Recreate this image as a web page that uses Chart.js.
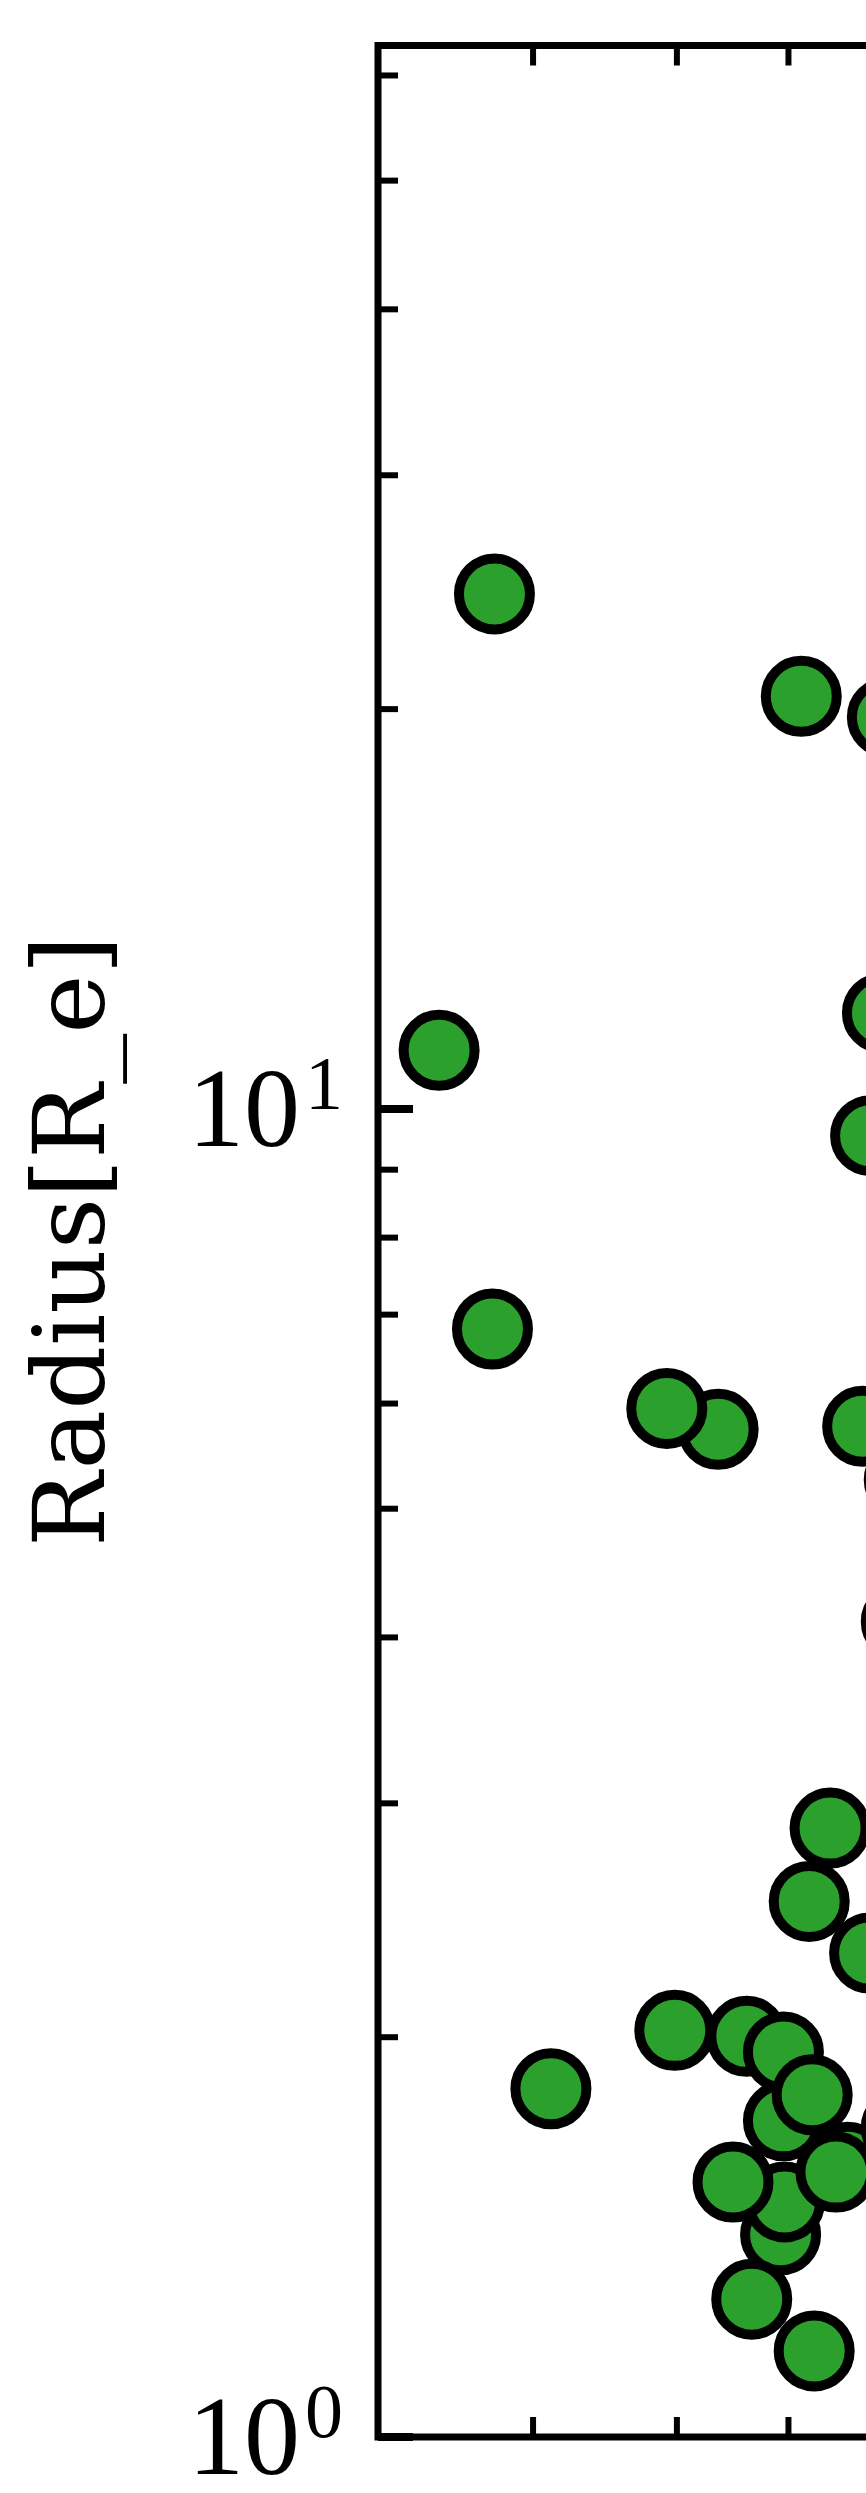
<!DOCTYPE html>
<html>
<head>
<meta charset="utf-8">
<script src="https://cdn.jsdelivr.net/npm/chart.js@4.4.1/dist/chart.umd.min.js"></script>
<style>
  html, body { margin: 0; padding: 0; background: #fff; overflow: hidden; }
  #wrap { width: 1200px; height: 2493px; }
</style>
</head>
<body>
<div id="wrap"><canvas id="radiusChart" width="1200" height="2493"></canvas></div>
<script>
// scatter points (x on a log axis, Radius in R_e on a log axis)
// listed back to front, so overlapping markers stack like the picture
const pointX = [2.777, 5.130, 6.094, 2.486, 6.034, 5.893, 2.766, 4.344, 3.920,
  5.800, 6.303, 6.266, 5.434, 5.212, 5.881, 3.109, 3.983, 4.600, 4.950,
  4.950, 5.243, 4.922, 4.961, 4.475, 5.630, 5.498, 6.266, 4.646, 5.264];
const pointY = [24.42, 20.45, 19.72, 11.07, 11.81, 9.546, 6.828, 5.738, 5.950,
  5.768, 5.257, 4.111, 2.874, 2.531, 2.314, 1.829, 2.024, 2.003, 1.949,
  1.730, 1.810, 1.420, 1.503, 1.556, 1.610, 1.583, 1.710, 1.270, 1.161];

// axis ticks
const yMajorTicks = [1, 10];
const yTickExponents = ['0', '1'];
const yMinorTicks = [2, 3, 4, 5, 6, 7, 8, 9, 20, 30, 40, 50, 60];
const xMinorTicks = [3, 4, 5, 6, 7, 8, 9];
const yTitle = 'Radius[R_e]';

const points = pointX.map((v, i) => ({ x: v, y: pointY[i] }));

const frame = {
  id: 'frame',
  afterDraw(chart) {
    const { ctx, chartArea: a, scales: { x, y } } = chart;
    ctx.save();
    ctx.strokeStyle = '#000';
    ctx.lineCap = 'butt';
    const line = (x0, y0, x1, y1, w) => {
      ctx.lineWidth = w;
      ctx.beginPath();
      ctx.moveTo(x0, y0);
      ctx.lineTo(x1, y1);
      ctx.stroke();
    };
    // inward ticks
    yMinorTicks.forEach(v => {
      const py = y.getPixelForValue(v);
      line(a.left, py, a.left + 20, py, 6);
    });
    yMajorTicks.forEach(v => {
      const py = y.getPixelForValue(v);
      line(a.left, py, a.left + 35, py, 8);
    });
    xMinorTicks.forEach(v => {
      const px = x.getPixelForValue(v);
      line(px, a.bottom, px, a.bottom - 20, 6);
      line(px, a.top, px, a.top + 20, 6);
    });
    ctx.lineWidth = 7;
    ctx.lineJoin = 'miter';
    ctx.strokeRect(a.left, a.top, a.right - a.left, a.bottom - a.top);

    // tick labels 10^n
    ctx.fillStyle = '#000';
    ctx.textBaseline = 'alphabetic';
    ctx.textAlign = 'right';
    yMajorTicks.forEach((v, i) => {
      const py = y.getPixelForValue(v);
      const right = a.left - 35;
      ctx.font = '76px "Liberation Serif"';
      const ew = ctx.measureText(yTickExponents[i]).width;
      ctx.fillText(yTickExponents[i], right, py);
      ctx.font = '112px "Liberation Serif"';
      ctx.fillText('10', right - ew - 5, py + 37);
    });
    ctx.restore();
  }
};

new Chart(document.getElementById('radiusChart').getContext('2d'), {
  type: 'scatter',
  data: {
    datasets: [{
      data: points,
      backgroundColor: '#2ca02c',
      borderColor: '#000000',
      pointRadius: 35.5,
      pointHoverRadius: 35.5,
      pointBorderWidth: 10
    }]
  },
  options: {
    responsive: false,
    animation: false,
    devicePixelRatio: 1,
    layout: { padding: { top: 26, bottom: 56, left: 0, right: 65 } },
    plugins: { legend: { display: false }, tooltip: { enabled: false } },
    scales: {
      x: {
        type: 'logarithmic',
        min: 2.234,
        max: 10,
        display: false
      },
      y: {
        type: 'logarithmic',
        min: 1,
        max: 63.2,
        grid: { display: false },
        border: { display: false },
        ticks: { display: false },
        title: {
          display: true,
          text: yTitle,
          color: '#000',
          font: { family: '"DejaVu Serif"', size: 100, lineHeight: 1 },
          padding: { top: 28, bottom: 0 }
        },
        afterFit(scale) { scale.width = 378; }
      }
    }
  },
  plugins: [frame]
});
</script>
</body>
</html>
